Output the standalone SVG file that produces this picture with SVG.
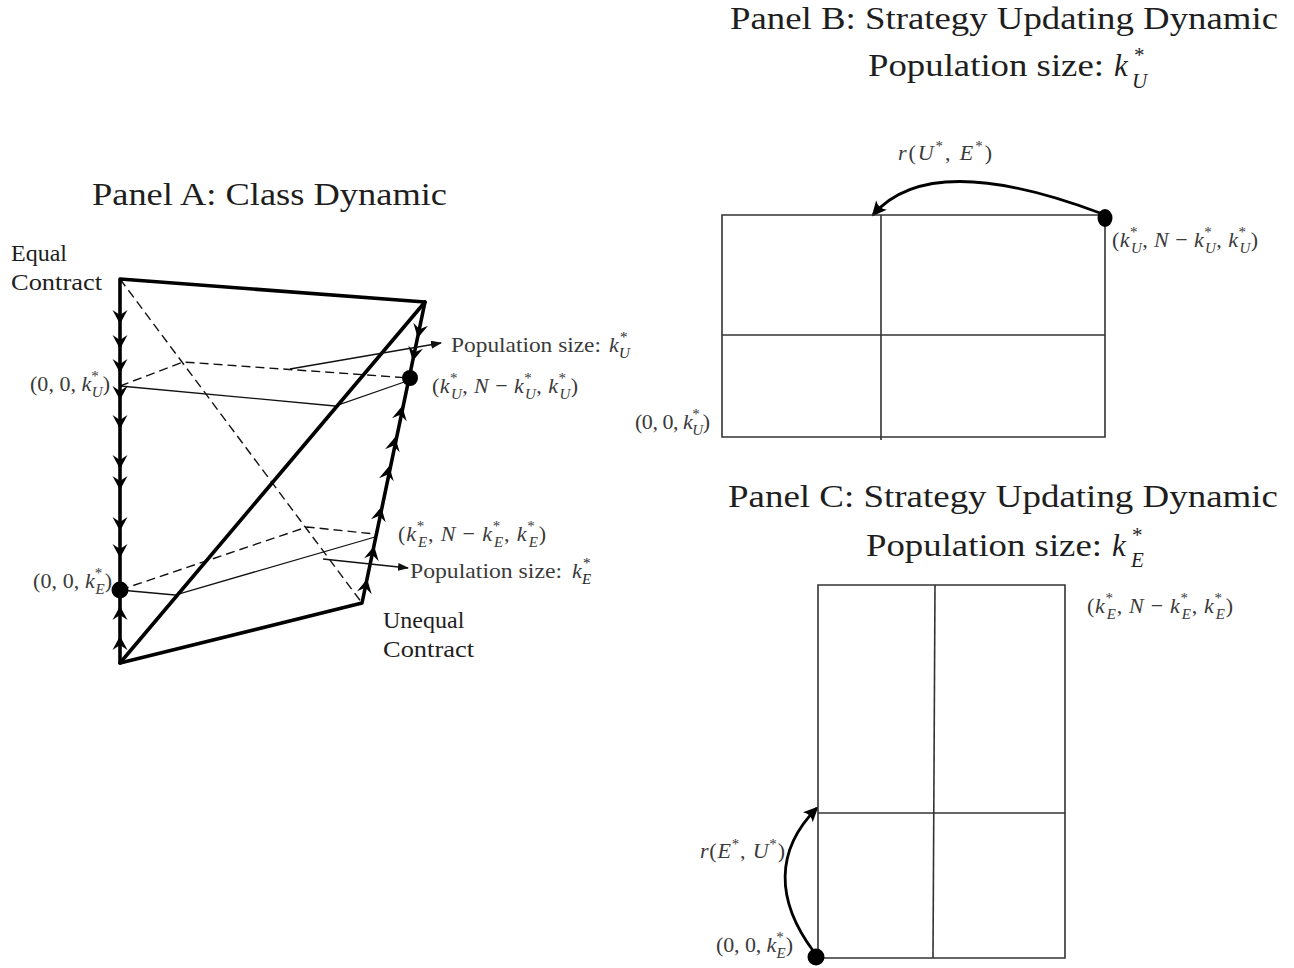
<svg xmlns="http://www.w3.org/2000/svg" width="1294" height="968" viewBox="0 0 1294 968">
<style>
text{font-family:"Liberation Serif","DejaVu Serif",serif;fill:#1e1e1e}
.t{font-size:31px}
.l{font-size:24px}
.m{font-size:22px;fill:#3a3a3a}
.i{font-style:italic}
.s{font-size:15px}
.ts{font-size:21px}
.thick{stroke:#000;stroke-width:3.6;fill:none;stroke-linecap:round;stroke-linejoin:round}
.thin{stroke:#111;stroke-width:1.3;fill:none}
.dash{stroke:#111;stroke-width:1.4;fill:none;stroke-dasharray:9 5}
.grid{stroke:#333;stroke-width:1.6;fill:none}
.curve{stroke:#000;stroke-width:2.8;fill:none}
.dot{fill:#000}
</style>
<defs>
<path id="chev" d="M1,0 L-13,-7.5 L-8,0 L-13,7.5 Z" fill="#000"/>
<marker id="ah" markerWidth="11" markerHeight="8" refX="10" refY="4" orient="auto" markerUnits="userSpaceOnUse"><path d="M0,0 L11,4 L0,8 Z" fill="#111"/></marker>
<marker id="ahc" markerWidth="16" markerHeight="14" refX="14" refY="7" orient="auto" markerUnits="userSpaceOnUse"><path d="M16,7 L1,0 Q6,7 1,14 Z" fill="#000"/></marker>
</defs>

<!-- Titles -->
<g id="titles">
<text class="t" x="92" y="205" textLength="355" lengthAdjust="spacingAndGlyphs">Panel A: Class Dynamic</text>
<text class="t" x="730" y="29" textLength="548" lengthAdjust="spacingAndGlyphs">Panel B: Strategy Updating Dynamic</text>
<text class="t" x="868" y="76" textLength="236" lengthAdjust="spacingAndGlyphs">Population size:</text>
<text class="t i" x="1114" y="76">k</text>
<text class="ts" x="1134" y="62">*</text>
<text class="ts i" x="1132" y="88">U</text>
<text class="t" x="728" y="507" textLength="550" lengthAdjust="spacingAndGlyphs">Panel C: Strategy Updating Dynamic</text>
<text class="t" x="866" y="556" textLength="236" lengthAdjust="spacingAndGlyphs">Population size:</text>
<text class="t i" x="1112" y="556">k</text>
<text class="ts" x="1132" y="542">*</text>
<text class="ts i" x="1131" y="567">E</text>
</g>

<!-- Panel A -->
<g id="panelA-frame">
<path class="dash" d="M120,279 L362,603"/>
<path class="dash" d="M120,386 L183,362 L410,378"/>
<path class="thin" d="M120,386 L335,406 L410,380"/>
<path class="dash" d="M120,590 L307,527 L375,534"/>
<path class="thin" d="M120,590 L175,595 L375,537"/>
<path class="thick" d="M120,279 L425,302 L362,603 L120,663 Z"/>
<path class="thick" d="M120,663 L425,302"/>
</g>

<g id="panelA-arrows">
<use href="#chev" transform="translate(120,323) rotate(90)"/>
<use href="#chev" transform="translate(120,348) rotate(90)"/>
<use href="#chev" transform="translate(120,372) rotate(90)"/>
<use href="#chev" transform="translate(120,399) rotate(90)"/>
<use href="#chev" transform="translate(120,428) rotate(90)"/>
<use href="#chev" transform="translate(120,468) rotate(90)"/>
<use href="#chev" transform="translate(120,489) rotate(90)"/>
<use href="#chev" transform="translate(120,530) rotate(90)"/>
<use href="#chev" transform="translate(120,557) rotate(90)"/>
<use href="#chev" transform="translate(120,607) rotate(-90)"/>
<use href="#chev" transform="translate(120,637) rotate(-90)"/>
<use href="#chev" transform="translate(418,337) rotate(101.8)"/>
<use href="#chev" transform="translate(413,360) rotate(101.8)"/>
<use href="#chev" transform="translate(402,407) rotate(-78.2)"/>
<use href="#chev" transform="translate(395,438) rotate(-78.2)"/>
<use href="#chev" transform="translate(389,467) rotate(-78.2)"/>
<use href="#chev" transform="translate(381,508) rotate(-78.2)"/>
<use href="#chev" transform="translate(374,547) rotate(-78.2)"/>
<use href="#chev" transform="translate(367,580) rotate(-78.2)"/>
</g>

<g id="panelA-dots">
<circle class="dot" cx="410" cy="378" r="8"/>
<circle class="dot" cx="120" cy="590" r="8.5"/>
</g>

<g id="connectors">
<path class="thin" d="M290,369 L441,343" marker-end="url(#ah)"/>
<path class="thin" d="M323,559 L408,568" marker-end="url(#ah)"/>
<path class="curve" d="M1100,213 C1020,183 920,160 873,215" marker-end="url(#ahc)"/>
<path class="curve" d="M814,952 C775,900 775,850 817,808" marker-end="url(#ahc)"/>
</g>

<g id="panelA-labels">
<text class="l" x="11" y="261">Equal</text>
<text class="l" x="11" y="290" textLength="91" lengthAdjust="spacingAndGlyphs">Contract</text>
<text class="l" x="383" y="628">Unequal</text>
<text class="l" x="383" y="657" textLength="91" lengthAdjust="spacingAndGlyphs">Contract</text>
<text class="m" x="30" y="391" textLength="80" lengthAdjust="spacing">(0, 0, <tspan class="i">k</tspan><tspan class="s" dy="-10">*</tspan><tspan class="s i" dx="-7" dy="16">U</tspan><tspan dy="-6">)</tspan></text>
<text class="m" x="33" y="588" textLength="79" lengthAdjust="spacing">(0, 0, <tspan class="i">k</tspan><tspan class="s" dy="-10">*</tspan><tspan class="s i" dx="-7" dy="16">E</tspan><tspan dy="-6">)</tspan></text>
<text class="m" x="451" y="352" textLength="150" lengthAdjust="spacingAndGlyphs">Population size:</text>
<text class="m i" x="609" y="352">k</text>
<text class="s" x="620" y="342" fill="#3a3a3a">*</text>
<text class="s i" x="619" y="358" fill="#3a3a3a">U</text>
<text class="m" x="410" y="578" textLength="152" lengthAdjust="spacingAndGlyphs">Population size:</text>
<text class="m i" x="572" y="578">k</text>
<text class="s" x="583" y="568" fill="#3a3a3a">*</text>
<text class="s i" x="582" y="584" fill="#3a3a3a">E</text>
<text class="m" x="432" y="393" textLength="146" lengthAdjust="spacing">(<tspan class="i">k</tspan><tspan class="s" dy="-10">*</tspan><tspan class="s i" dx="-7" dy="16">U</tspan><tspan dy="-6">, </tspan><tspan class="i">N</tspan> − <tspan class="i">k</tspan><tspan class="s" dy="-10">*</tspan><tspan class="s i" dx="-7" dy="16">U</tspan><tspan dy="-6">, </tspan><tspan class="i">k</tspan><tspan class="s" dy="-10">*</tspan><tspan class="s i" dx="-7" dy="16">U</tspan><tspan dy="-6">)</tspan></text>
<text class="m" x="398" y="541" textLength="148" lengthAdjust="spacing">(<tspan class="i">k</tspan><tspan class="s" dy="-10">*</tspan><tspan class="s i" dx="-7" dy="16">E</tspan><tspan dy="-6">, </tspan><tspan class="i">N</tspan> − <tspan class="i">k</tspan><tspan class="s" dy="-10">*</tspan><tspan class="s i" dx="-7" dy="16">E</tspan><tspan dy="-6">, </tspan><tspan class="i">k</tspan><tspan class="s" dy="-10">*</tspan><tspan class="s i" dx="-7" dy="16">E</tspan><tspan dy="-6">)</tspan></text>
</g>

<!-- Panel B -->
<g id="panelB">
<path class="grid" d="M722,215 L1105,215 L1105,437 L722,437 Z"/>
<path class="grid" d="M881,215 L881,440"/>
<path class="grid" d="M722,335 L1105,335"/>
<ellipse class="dot" cx="1105" cy="218" rx="7.5" ry="9"/>
<text class="m" x="898" y="160" textLength="94" lengthAdjust="spacing"><tspan class="i">r</tspan>(<tspan class="i">U</tspan><tspan class="s" dy="-9">*</tspan><tspan dy="9">, </tspan><tspan class="i">E</tspan><tspan class="s" dy="-9">*</tspan><tspan dy="9">)</tspan></text>
<text class="m" x="1112" y="247" textLength="146" lengthAdjust="spacing">(<tspan class="i">k</tspan><tspan class="s" dy="-10">*</tspan><tspan class="s i" dx="-7" dy="16">U</tspan><tspan dy="-6">, </tspan><tspan class="i">N</tspan> − <tspan class="i">k</tspan><tspan class="s" dy="-10">*</tspan><tspan class="s i" dx="-7" dy="16">U</tspan><tspan dy="-6">, </tspan><tspan class="i">k</tspan><tspan class="s" dy="-10">*</tspan><tspan class="s i" dx="-7" dy="16">U</tspan><tspan dy="-6">)</tspan></text>
<text class="m" x="635" y="429" textLength="75" lengthAdjust="spacing">(0, 0, <tspan class="i">k</tspan><tspan class="s" dy="-10">*</tspan><tspan class="s i" dx="-7" dy="16">U</tspan><tspan dy="-6">)</tspan></text>
</g>

<!-- Panel C -->
<g id="panelC">
<path class="grid" d="M818,585 L1065,585 L1065,958 L818,958 Z"/>
<path class="grid" d="M935,585 L933,958"/>
<path class="grid" d="M818,813 L1065,813"/>
<circle class="dot" cx="816" cy="957" r="8.5"/>
<text class="m" x="1087" y="613" textLength="146" lengthAdjust="spacing">(<tspan class="i">k</tspan><tspan class="s" dy="-10">*</tspan><tspan class="s i" dx="-7" dy="16">E</tspan><tspan dy="-6">, </tspan><tspan class="i">N</tspan> − <tspan class="i">k</tspan><tspan class="s" dy="-10">*</tspan><tspan class="s i" dx="-7" dy="16">E</tspan><tspan dy="-6">, </tspan><tspan class="i">k</tspan><tspan class="s" dy="-10">*</tspan><tspan class="s i" dx="-7" dy="16">E</tspan><tspan dy="-6">)</tspan></text>
<text class="m" x="700" y="858" textLength="85" lengthAdjust="spacing"><tspan class="i">r</tspan>(<tspan class="i">E</tspan><tspan class="s" dy="-9">*</tspan><tspan dy="9">, </tspan><tspan class="i">U</tspan><tspan class="s" dy="-9">*</tspan><tspan dy="9">)</tspan></text>
<text class="m" x="716" y="952" textLength="77" lengthAdjust="spacing">(0, 0, <tspan class="i">k</tspan><tspan class="s" dy="-10">*</tspan><tspan class="s i" dx="-7" dy="16">E</tspan><tspan dy="-6">)</tspan></text>
</g>
</svg>
